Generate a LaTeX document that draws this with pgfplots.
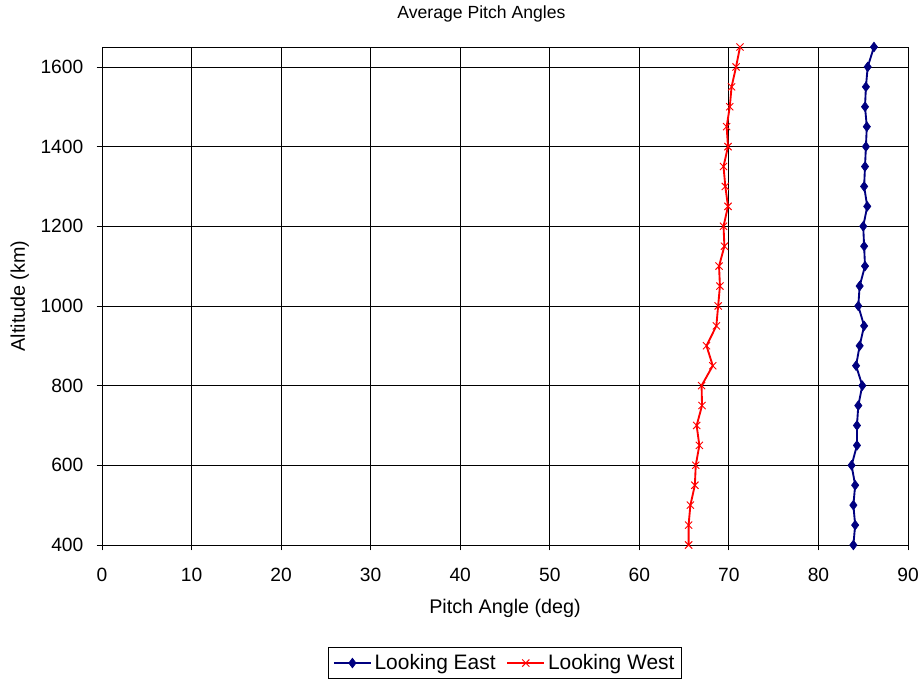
\documentclass[border=0pt]{standalone}
\usepackage{fontspec}
\setmainfont{Liberation Sans}
\usepackage{pgfplots}
\pgfplotsset{compat=1.18}
\definecolor{eastblue}{RGB}{0,0,128}
\definecolor{westred}{RGB}{255,0,0}
\begin{document}
\begin{tikzpicture}
\useasboundingbox (-76.5pt,-102pt) rectangle (615.75pt,408.75pt);
\begin{axis}[
  at={(0,0)}, anchor=south west,
  scale only axis,
  width=604.5pt, height=373.5pt,
  xmin=0, xmax=90, ymin=400, ymax=1650,
  xtick={0,10,...,90},
  ytick={400,600,...,1600},
  xtick pos=bottom, ytick pos=left,
  grid=major,
  major grid style={black, line width=0.6pt},
  axis line style={black, line width=0.6pt},
  tick style={black, line width=0.6pt},
  tick align=outside,
  major tick length=4pt,
  font=\fontsize{14.4}{17}\selectfont,
  /pgf/number format/assume math mode=true,
  /pgf/number format/1000 sep={},
  xticklabel style={font=\fontsize{14.4}{17}\selectfont, yshift=-10pt},
  yticklabel style={font=\fontsize{14.4}{17}\selectfont, xshift=-6.5pt},
  every axis title shift=0pt,
  title={Average Pitch Angles},
  title style={at={(axis description cs:0.4708,1.0663)}, anchor=center, font=\fontsize{13.2}{16}\selectfont},
  xlabel={Pitch Angle (deg)},
  xlabel style={at={(axis description cs:0.5,-0.1265)}, anchor=center, font=\fontsize{14.8}{17}\selectfont},
  ylabel={Altitude (km)},
  ylabel style={at={(axis description cs:-0.102,0.5)}, anchor=center, font=\fontsize{14.8}{17}\selectfont},
  legend columns=2,
  legend style={at={(axis description cs:0.5,-0.237)}, anchor=center, draw=black, line width=0.6pt,
    inner sep=3pt, font=\fontsize{15.7}{18}\selectfont,
    /tikz/every even column/.append style={column sep=6pt}},
  legend cell align=left,
  legend image code/.code={\draw[mark repeat=2,mark phase=2,#1] plot coordinates {(0cm,0cm) (0.49cm,0cm) (0.98cm,0cm)};},
]
\addplot[color=eastblue, line width=1.4pt, mark=diamond*, mark size=3.6pt, mark options={fill=eastblue, line width=0.5pt}] coordinates {
(83.9,400) (84.1,450) (83.9,500) (84.1,550) (83.7,600) (84.3,650) (84.3,700) (84.45,750) (84.9,800) (84.2,850)
(84.6,900) (85.1,950) (84.45,1000) (84.6,1050) (85.2,1100) (85.1,1150) (85.0,1200) (85.45,1250) (85.1,1300) (85.2,1350)
(85.3,1400) (85.4,1450) (85.2,1500) (85.3,1550) (85.5,1600) (86.2,1650)
};
\addlegendentry{Looking East}
\addplot[color=westred, line width=1.4pt, mark=x, mark size=3.8pt, mark options={line width=0.7pt}] coordinates {
(65.5,400) (65.5,450) (65.7,500) (66.2,550) (66.3,600) (66.7,650) (66.4,700) (67.0,750) (66.95,800) (68.2,850)
(67.5,900) (68.6,950) (68.8,1000) (69.0,1050) (68.9,1100) (69.5,1150) (69.4,1200) (69.9,1250) (69.6,1300) (69.4,1350)
(69.9,1400) (69.75,1450) (70.1,1500) (70.3,1550) (70.8,1600) (71.24,1650)
};
\addlegendentry{Looking West}
\end{axis}
\end{tikzpicture}
\end{document}
